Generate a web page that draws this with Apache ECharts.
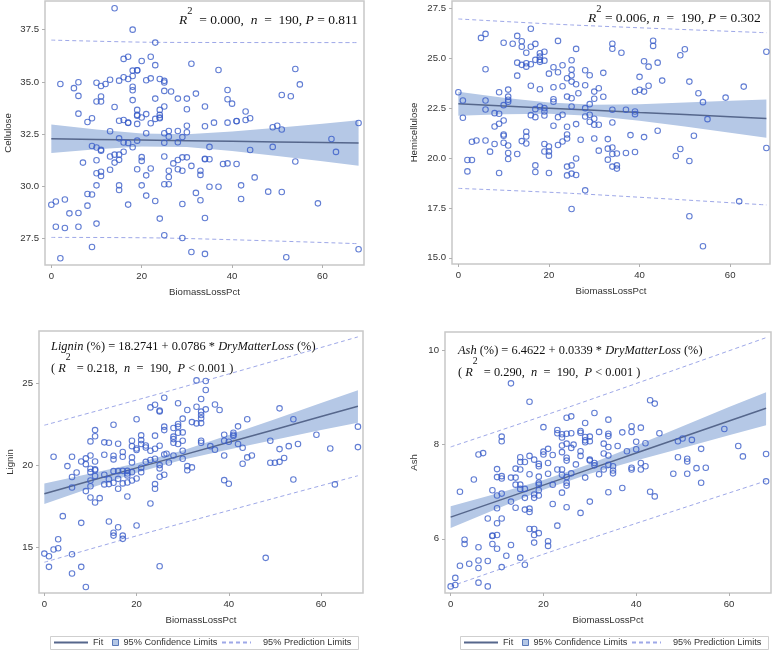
<!DOCTYPE html>
<html>
<head>
<meta charset="utf-8">
<script src="https://cdn.jsdelivr.net/npm/echarts/dist/echarts.min.js"></script>
<style>html,body{margin:0;padding:0;background:#fff}#c{width:773px;height:650px}</style>
</head>
<body>
<div id="c"></div>
<script>
// ---------- data ----------
const xTicks = [0, 20, 40, 60];
const celluloseTicks = [27.5, 30.0, 32.5, 35.0, 37.5];
const hemiTicks = [15.0, 17.5, 20.0, 22.5, 25.0, 27.5];
const ligninTicks = [15, 20, 25];
const ashTicks = [6, 8, 10];

const bandX = [0, 10, 20, 30, 40, 50, 60, 68];
const predX = [0, 25, 68];

const celluloseFit = [32.28, 32.25, 32.22, 32.19, 32.16, 32.13, 32.10, 32.08];
const celluloseCLup = [32.96, 32.72, 32.53, 32.50, 32.63, 32.81, 33.00, 33.17];
const celluloseCLlo = [31.60, 31.78, 31.91, 31.88, 31.69, 31.45, 31.20, 30.99];
const cellulosePLup = [37.00, 36.89, 36.88];
const cellulosePLlo = [27.56, 27.53, 27.26];

const hemiFit = [22.72, 22.61, 22.50, 22.39, 22.28, 22.18, 22.07, 21.98];
const hemiCLup = [23.32, 23.02, 22.78, 22.67, 22.69, 22.78, 22.87, 22.94];
const hemiCLlo = [22.12, 22.20, 22.22, 22.11, 21.87, 21.58, 21.27, 21.02];
const hemiPLup = [26.97, 26.67, 26.28];
const hemiPLlo = [18.48, 18.23, 17.65];

const ligninFit = [18.27, 19.06, 19.85, 20.63, 21.42, 22.20, 22.99, 23.62];
const ligninCLup = [18.90, 19.50, 20.14, 20.92, 21.86, 22.83, 23.82, 24.60];
const ligninCLlo = [17.64, 18.62, 19.56, 20.34, 20.98, 21.57, 22.16, 22.61];
const ligninPLup = [22.46, 24.39, 27.86];
const ligninPLlo = [14.08, 16.09, 19.37];

const ashFit = [6.46, 6.80, 7.14, 7.48, 7.82, 8.16, 8.50, 8.77];
const ashCLup = [6.69, 6.96, 7.25, 7.59, 7.98, 8.39, 8.80, 9.11];
const ashCLlo = [6.23, 6.64, 7.04, 7.38, 7.66, 7.93, 8.20, 8.41];
const ashPLup = [7.95, 8.78, 10.27];
const ashPLlo = [4.99, 5.84, 7.23];

const cellulosePts = [[14,38.52],[18,37.5],[23,36.88],[2,34.9],[6,34.98],[5,34.7],[6,34.33],[6,33.48],[8,33.08],[9,33.26],[10,34.96],[11,34.8],[12,34.9],[13,35.1],[10,34.06],[11,34.3],[11,34.06],[14,33.8],[16,36.1],[17,36.2],[16,35.22],[17,35.14],[15,35.06],[18,35.28],[18,35.54],[19,35.55],[19,35.56],[18,34.77],[18,34.6],[18,34.13],[20,36.0],[22,36.2],[23,35.8],[22,35.17],[21,35.08],[24,35.14],[25,35.05],[25,34.97],[25,34.57],[26.5,34.54],[23,34.2],[28,34.2],[30,34.2],[32,34.44],[31,35.87],[37,35.57],[39,34.61],[39,34.17],[40,33.96],[34,33.82],[30,33.69],[19,33.66],[19,33.42],[19,33.38],[24,33.66],[24,33.42],[24,33.26],[24,33.3],[23,33.23],[25,33.82],[20,33.3],[21,33.46],[15,33.14],[16,33.18],[17,33.05],[17,33.04],[19,32.99],[22,33.02],[13,32.64],[36,33.05],[39,33.05],[41,33.13],[41,33.12],[43,33.58],[44,33.26],[43,33.18],[34,32.88],[30,32.9],[28,32.65],[26,32.65],[25,32.54],[30,32.59],[26,32.38],[29,32.36],[21,32.54],[15,32.3],[16,32.1],[17,32.08],[19,32.19],[18,31.87],[25,32.09],[28,32.11],[9,31.93],[10,31.86],[11,31.75],[11,31.71],[13,31.43],[14,31.52],[15,31.52],[16,31.66],[14,31.14],[15,31.27],[10,31.25],[7,31.14],[35,31.89],[44,31.74],[49,31.89],[49,32.83],[50,32.9],[51,32.72],[51,34.37],[53,34.31],[54,35.62],[55,34.88],[54,31.19],[62,32.27],[63,31.65],[68,33.03],[20,31.4],[20,31.22],[25,31.43],[28,31.26],[29,31.39],[30,31.39],[27,31.1],[31,30.98],[34,31.3],[34,31.32],[35,31.3],[38,31.07],[39,31.1],[41,31.07],[13,30.8],[11,30.7],[10,30.63],[11,30.5],[19,30.82],[22,30.86],[21,30.53],[26,30.75],[28,30.82],[29,30.75],[26,30.45],[33,30.75],[33,30.55],[10,30.05],[15,30.05],[15,29.83],[20,30.05],[25,30.1],[26,30.1],[35,29.98],[37,29.98],[42,30.05],[45,30.43],[48,29.75],[51,29.73],[8,29.64],[9,29.61],[8,29.08],[6,28.73],[4,28.71],[3,29.37],[1,29.28],[0,29.12],[17,29.13],[21,29.56],[23,29.3],[32,29.69],[33,29.34],[29,29.16],[42,29.4],[59,29.19],[1,28.07],[3,28.01],[6,28.07],[10,28.22],[24,28.46],[34,28.49],[25,27.66],[29,27.53],[9,27.1],[2,26.56],[31,26.86],[34,26.77],[52,26.61],[68,26.99]];

const hemiPts = [[0,23.3],[1,22.88],[1,22.02],[2,19.9],[3,19.9],[2,19.33],[3,20.82],[4,20.88],[5,26.02],[6,26.22],[6,24.45],[6,22.88],[6,22.43],[6,20.88],[7,20.32],[8,22.25],[8,21.58],[8,20.7],[9,23.3],[9,22.22],[9,21.72],[9,19.25],[10,25.78],[10,22.65],[10,21.88],[10,21.18],[10,21.12],[10,20.77],[11,23.43],[11,23.08],[11,22.92],[11,22.82],[11,20.63],[11,20.25],[11,19.95],[12,25.73],[13,26.12],[13,24.78],[13,24.13],[13,20.2],[14,25.85],[14,25.58],[14,24.67],[14,20.85],[15,25.28],[15,24.75],[15,24.58],[15,21.32],[15,21.08],[15,20.73],[16,26.48],[16,25.58],[16,24.7],[16,23.62],[16,22.15],[17,25.72],[17,24.92],[17,22.45],[17,22.05],[17,19.63],[17,19.3],[18,25.25],[18,25.08],[18,24.92],[18,24.82],[18,23.45],[18,22.58],[19,25.33],[19,24.88],[19,22.5],[19,22.33],[19,22.13],[19,20.7],[19,20.33],[20,24.23],[20,20.58],[20,20.33],[20,20.12],[20,19.25],[21,22.95],[21,22.82],[21,23.55],[21,21.62],[21,24.55],[22,25.87],[22,24.3],[22,22.05],[22,20.65],[23,24.65],[23,23.6],[23,22.17],[23,20.83],[24,23.08],[24,24.0],[24,21.57],[24,21.18],[24,20.98],[24,19.57],[24,19.13],[25,24.9],[25,24.43],[25,24.15],[25,23.83],[25,23.0],[25,22.58],[25,19.63],[25,19.22],[25,17.45],[26,25.47],[26,23.7],[26,21.7],[26,19.98],[26,19.15],[26.5,23.25],[27,20.92],[28,24.4],[28,23.65],[28,22.5],[28,22.08],[28,18.38],[29,24.15],[29,22.7],[29,22.17],[29,21.82],[30,23.33],[30,22.97],[30,21.97],[30,21.67],[30,20.98],[31,23.5],[31,21.67],[31,20.37],[32,24.27],[32,23.07],[33,20.95],[33,20.47],[33,19.92],[34,25.73],[34,25.48],[34,22.42],[34,21.78],[34,20.53],[34,20.2],[34,19.57],[35,19.63],[35,19.47],[35,20.23],[36,25.28],[37,22.42],[37,20.25],[38,21.15],[39,23.32],[39,22.33],[39,22.2],[39,20.3],[40,24.07],[40,23.42],[41,24.85],[41,23.33],[41,21.05],[42,24.58],[42,23.62],[43,25.88],[43,25.62],[44,24.78],[44,21.37],[45,23.88],[48,20.1],[49,25.15],[49,20.45],[50,25.45],[51,23.83],[51,19.85],[51,17.08],[52,21.12],[53,23.25],[54,22.8],[54,15.58],[55,21.95],[59,23.03],[62,17.83],[63,23.58],[68,25.33],[68,20.5]];

const ligninPts = [[0,14.61],[1,14.45],[1,13.8],[2,14.86],[2,20.53],[3,14.94],[3,15.49],[4,16.9],[5,19.96],[6,20.53],[6,19.29],[6,18.65],[6,14.57],[6,13.39],[7,19.57],[8,20.24],[8,16.49],[8,13.8],[9,20.43],[9,20.08],[9,18.43],[9,12.57],[10,21.47],[10,20.61],[10,19.8],[10,19.59],[10,19.08],[10,18.73],[10,18.04],[11,22.16],[11,21.78],[11,20.24],[11,19.76],[11,19.71],[11,19.35],[11,17.73],[12,18.0],[13,21.41],[13,20.65],[13,19.43],[13,18.84],[14,21.39],[14,19.16],[14,18.86],[14,16.57],[15,22.49],[15,20.59],[15,20.37],[15,19.65],[15,18.94],[15,15.88],[15,15.71],[16,21.33],[16,19.65],[16,19.18],[16,18.57],[16,16.22],[17,20.82],[17,20.53],[17,19.67],[17,18.9],[17,15.71],[17,15.51],[18,19.67],[18,19.51],[18,19.39],[18,18.96],[18,18.1],[19,21.51],[19,21.18],[19,20.49],[19,20.18],[19,19.59],[19,19.08],[20,22.82],[20,21.04],[20,20.94],[20,19.2],[20,16.33],[21,21.84],[21,21.55],[21,21.31],[21,19.86],[21,19.59],[22,21.22],[22,21.1],[22,20.22],[23,23.55],[23,20.33],[23,20.9],[23,17.67],[24,23.71],[24,21.82],[24,21.02],[24,20.41],[24,18.86],[24,18.57],[25,23.35],[25,23.3],[25,21.2],[25,20.02],[25,19.82],[25,19.31],[25,13.84],[26,24.14],[26,22.37],[26,22.16],[26,20.67],[26,19.43],[26.5,20.71],[27,20.18],[28,22.29],[28,21.76],[28,21.61],[28,21.39],[28,20.61],[29,23.8],[29,22.53],[29,22.37],[29,22.0],[29,21.31],[30,22.86],[30,22.02],[30,21.51],[30,20.9],[30,20.41],[31,23.39],[31,19.96],[31,19.71],[32,22.65],[32,19.88],[33,25.2],[33,23.59],[33,22.57],[34,24.06],[34,23.29],[34,23.08],[34,22.88],[34,22.59],[34,21.51],[34,21.39],[35,25.16],[35,24.61],[35,23.43],[36,21.18],[37,23.73],[37,20.96],[38,23.39],[39,21.88],[39,21.51],[39,20.61],[39,19.1],[40,21.45],[40,18.88],[41,22.0],[41,21.88],[41,21.8],[42,22.39],[42,21.31],[43,21.08],[43,20.1],[44,22.82],[44,20.49],[45,20.61],[48,14.35],[49,21.51],[49,20.16],[50,20.16],[51,23.49],[51,21.0],[51,20.22],[52,20.45],[53,21.18],[54,22.82],[54,19.14],[55,21.31],[59,21.88],[62,21.04],[63,18.84],[68,22.37],[68,21.12]];

const ashPts = [[0,4.99],[1,5.17],[1,5.02],[2,7.0],[2,5.43],[3,5.98],[3,5.89],[4,5.47],[5,7.26],[6,7.79],[6,5.82],[6,5.54],[6,5.38],[6,5.07],[7,7.82],[8,6.43],[8,5.53],[8,4.99],[9,7.03],[9,6.06],[9,6.07],[9,5.89],[10,7.48],[10,7.31],[10,6.92],[10,6.65],[10,6.33],[10,6.08],[10,5.79],[11,8.17],[11,8.07],[11,7.33],[11,7.28],[11,6.96],[11,6.43],[11,5.4],[12,5.64],[13,9.3],[13,7.3],[13,6.79],[13,5.87],[14,7.49],[14,7.3],[14,7.15],[14,6.66],[15,7.73],[15,7.63],[15,7.47],[15,7.15],[15,7.06],[15,5.6],[16,7.63],[16,7.06],[16,6.87],[16,6.62],[16,5.45],[17,8.91],[17,7.76],[17,7.37],[17,6.64],[17,6.57],[17,6.21],[18,7.68],[18,6.94],[18,6.87],[18,6.21],[18,6.08],[18,5.92],[19,7.59],[19,7.54],[19,7.32],[19,7.19],[19,7.15],[19,7.03],[19,6.92],[19,6.12],[20,8.37],[20,7.85],[20,7.79],[21,7.91],[21,7.61],[21,7.38],[21,5.95],[21,5.85],[22,7.78],[22,7.15],[22,6.74],[23,8.31],[23,8.24],[23,7.47],[23,6.28],[24,8.22],[24,8.15],[24,7.98],[24,7.84],[24,7.47],[24,7.36],[24,6.98],[25,8.57],[25,8.23],[25,8.02],[25,7.72],[25,7.66],[25,7.31],[25,7.19],[25,7.13],[25,6.67],[26,8.6],[26,8.24],[26,7.93],[26,7.39],[26.5,8.0],[27,7.58],[28,8.29],[28,8.25],[28,7.86],[28,7.76],[28,6.55],[29,8.46],[29,8.16],[29,8.09],[29,8.05],[29,7.3],[30,8.17],[30,8.07],[30,7.68],[30,7.66],[30,6.79],[31,8.67],[31,7.61],[31,7.56],[32,8.27],[32,7.37],[33,8.02],[33,7.81],[33,7.47],[34,8.53],[34,8.23],[34,8.18],[34,7.95],[34,7.77],[34,7.57],[34,6.99],[35,7.54],[35,7.45],[35,7.39],[36,7.97],[37,8.26],[37,7.08],[38,7.86],[39,8.39],[39,8.27],[39,7.51],[39,7.47],[40,8.06],[40,7.9],[41,8.36],[41,7.61],[41,7.47],[42,8.03],[42,7.54],[43,8.94],[43,7.0],[44,8.87],[44,6.9],[45,8.24],[48,7.38],[49,8.07],[49,7.73],[50,8.13],[51,7.7],[51,7.64],[51,7.38],[52,8.1],[53,7.5],[54,7.91],[54,7.19],[55,7.51],[59,8.33],[62,7.97],[63,7.75],[68,7.8],[68,7.22]];

const yNames = ['Cellulose', 'Hemicellulose', 'Lignin', 'Ash'];
const xName = 'BiomassLossPct';
const legendNames = ['Fit', '95% Confidence Limits', '95% Prediction Limits'];

// ---------- styling / layout ----------
const C = { marker: '#3a5cc8', band: '#b5c8e6', fit: '#56678c', pred: '#9ea8e8', frame: '#c8c8c8', text: '#333' };
const SANS = "'Liberation Sans', Arial, sans-serif";
const SERIF = "'Liberation Serif', 'Times New Roman', serif";

const panels = [
  { grid: { left: 45, top: 1, width: 319, height: 264 }, x: [-1.4, 69.2], y: [26.24, 38.87], yTicks: celluloseTicks, dec: 1, nameGap: 32,
    pts: cellulosePts, fit: celluloseFit, up: celluloseCLup, lo: celluloseCLlo, pu: cellulosePLup, pl: cellulosePLlo },
  { grid: { left: 452, top: 1, width: 318, height: 263 }, x: [-1.4, 68.8], y: [14.69, 27.87], yTicks: hemiTicks, dec: 1, nameGap: 33,
    pts: hemiPts, fit: hemiFit, up: hemiCLup, lo: hemiCLlo, pu: hemiPLup, pl: hemiPLlo },
  { grid: { left: 39, top: 331, width: 324, height: 262 }, x: [-1.16, 69.1], y: [12.2, 28.22], yTicks: ligninTicks, dec: 0, nameGap: 24,
    pts: ligninPts, fit: ligninFit, up: ligninCLup, lo: ligninCLlo, pu: ligninPLup, pl: ligninPLlo },
  { grid: { left: 445, top: 332, width: 326, height: 261 }, x: [-1.22, 69.06], y: [4.85, 10.39], yTicks: ashTicks, dec: 0, nameGap: 26,
    pts: ashPts, fit: ashFit, up: ashCLup, lo: ashCLlo, pu: ashPLup, pl: ashPLlo }
];

const grids = [], xAxes = [], yAxes = [], series = [];
panels.forEach((p, i) => {
  grids.push(Object.assign({ show: true, borderColor: C.frame, borderWidth: 1.5, backgroundColor: '#fff', containLabel: false, outerBoundsMode: 'none' }, p.grid));
  xAxes.push({
    type: 'value', gridIndex: i, min: p.x[0], max: p.x[1],
    name: xName, nameLocation: 'middle', nameGap: 22,
    nameTextStyle: { fontFamily: SANS, fontSize: 9.6, color: C.text },
    axisLine: { show: false, onZero: false },
    axisTick: { show: true, length: 3, customValues: xTicks, lineStyle: { color: '#b0b0b0', width: 1 } },
    axisLabel: { customValues: xTicks, margin: 6, fontFamily: SANS, fontSize: 9.6, color: C.text },
    splitLine: { show: false }
  });
  yAxes.push({
    type: 'value', gridIndex: i, min: p.y[0], max: p.y[1],
    name: yNames[i], nameLocation: 'middle', nameGap: p.nameGap, nameRotate: 90,
    nameTextStyle: { fontFamily: SANS, fontSize: 9.6, color: C.text },
    axisLine: { show: false, onZero: false },
    axisTick: { show: true, length: 3, customValues: p.yTicks, lineStyle: { color: '#b0b0b0', width: 1 } },
    axisLabel: { customValues: p.yTicks, margin: 6, fontFamily: SANS, fontSize: 9.6, color: C.text,
      formatter: (v) => Number(v).toFixed(p.dec) },
    splitLine: { show: false }
  });
  series.push({
    type: 'custom', name: legendNames[1], xAxisIndex: i, yAxisIndex: i, z: 1, silent: true, clip: true,
    itemStyle: { color: C.band },
    data: [[bandX[0], p.fit[0]]],
    renderItem: (params, api) => {
      const pts = [];
      for (let k = 0; k < bandX.length; k++) pts.push(api.coord([bandX[k], p.up[k]]));
      for (let k = bandX.length - 1; k >= 0; k--) pts.push(api.coord([bandX[k], p.lo[k]]));
      return { type: 'polygon', shape: { points: pts }, style: { fill: C.band } };
    }
  });
  series.push({
    type: 'line', name: legendNames[0], xAxisIndex: i, yAxisIndex: i, z: 3, symbol: 'none', silent: true,
    lineStyle: { color: C.fit, width: 1.5 }, itemStyle: { color: C.fit },
    data: bandX.map((x, k) => [x, p.fit[k]])
  });
  [p.pu, p.pl].forEach(arr => series.push({
    type: 'line', name: legendNames[2], xAxisIndex: i, yAxisIndex: i, z: 2, symbol: 'none', silent: true,
    smooth: 0.3,
    lineStyle: { color: C.pred, width: 1, type: [4, 3] }, itemStyle: { color: C.pred },
    data: predX.map((x, k) => [x, arr[k]])
  }));
  series.push({
    type: 'scatter', name: yNames[i], xAxisIndex: i, yAxisIndex: i, z: 4, symbol: 'circle', symbolSize: 5.5, silent: true,
    itemStyle: { color: 'rgba(255,255,255,0)', borderColor: C.marker, borderWidth: 1.1 },
    data: p.pts
  });
});

// ---------- legends (one framed box per bottom panel) ----------
const legends = [];
const legendBoxes = [];
[50, 460].forEach(bx => {
  legendBoxes.push({ type: 'rect', left: bx, top: 636, z: 0,
    shape: { width: 308, height: 13 }, style: { fill: '#fff', stroke: '#cfcfcf', lineWidth: 1 } });
  const ts = { fontFamily: SANS, fontSize: 9.2, color: C.text, lineHeight: 12 };
  legends.push({ left: bx + 3, top: 636.5, padding: 0, selectedMode: false, itemWidth: 34, itemHeight: 10, textStyle: ts,
    data: [{ name: legendNames[0], itemStyle: { opacity: 0 } }] });
  legends.push({ left: bx + 62, top: 636.5, padding: 0, selectedMode: false, itemWidth: 6, itemHeight: 6, textStyle: ts,
    data: [{ name: legendNames[1], icon: 'rect', itemStyle: { color: C.band, borderColor: '#5a79b8', borderWidth: 1 } }] });
  legends.push({ left: bx + 171, top: 636.5, padding: 0, selectedMode: false, itemWidth: 29, itemHeight: 10,
    textStyle: Object.assign({ padding: [0, 0, 0, 7] }, ts),
    data: [{ name: legendNames[2], itemStyle: { opacity: 0 } }] });
});

// ---------- statistics text ----------
function richSet(fs) {
  return {
    n: { fontFamily: SERIF, fontSize: fs, fill: '#111', lineHeight: 22, verticalAlign: 'bottom' },
    i: { fontFamily: SERIF, fontSize: fs, fontStyle: 'italic', fill: '#111', lineHeight: 22, verticalAlign: 'bottom' },
    s: { fontFamily: SERIF, fontSize: fs * 0.78, fill: '#111', lineHeight: 12, verticalAlign: 'top' }
  };
}
const statTexts = [
  { x: 179, y: 5.5, fs: 13.5, text: '{i|R}{s|2}{n|  = 0.000,  }{i|n}{n|  =  190, }{i|P}{n| = 0.811}' },
  { x: 588, y: 3.7, fs: 13.5, text: '{i|R}{s|2}{n| = 0.006, }{i|n}{n|  =  190, }{i|P}{n| = 0.302}' },
  { x: 51, y: 330.5, fs: 12.4, text: '{i|Lignin}{n| (%) = 18.2741 + 0.0786 * }{i|DryMatterLoss}{n| (%)}\n{n|( }{i|R}{s|2}{n|  = 0.218,  }{i|n}{n|  =  190,  }{i|P}{n| < 0.001 )}' },
  { x: 458, y: 334.8, fs: 12.4, text: '{i|Ash}{n| (%) = 6.4622 + 0.0339 * }{i|DryMatterLoss}{n| (%)}\n{n|( }{i|R}{s|2}{n|  = 0.290,  }{i|n}{n|  =  190,  }{i|P}{n| < 0.001 )}' }
];
const graphics = legendBoxes.concat(statTexts.map(t => ({
  type: 'text', x: t.x, y: t.y, z: 10, silent: true,
  style: { text: t.text, rich: richSet(t.fs), fill: '#111', font: t.fs + 'px ' + SERIF, verticalAlign: 'top', align: 'left' }
})));

const chart = echarts.init(document.getElementById('c'), null, { renderer: 'canvas' });
chart.setOption({
  animation: false,
  backgroundColor: '#fff',
  grid: grids, xAxis: xAxes, yAxis: yAxes,
  legend: legends,
  graphic: graphics,
  series: series
});
</script>
</body>
</html>
